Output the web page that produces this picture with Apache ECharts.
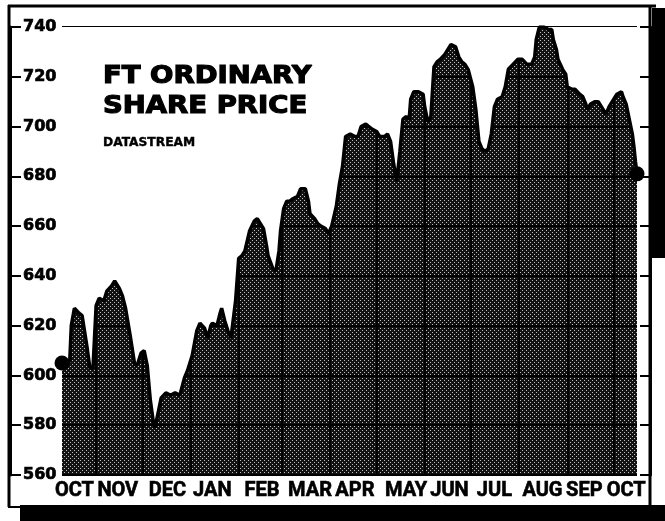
<!DOCTYPE html>
<html><head><meta charset="utf-8">
<script src="https://cdn.jsdelivr.net/npm/echarts@6/dist/echarts.min.js"></script>
<style>html,body{margin:0;padding:0;background:#fff}#c{width:665px;height:521px}</style>
</head><body><div id="c"></div>
<script>
// ---- data ----
const dates = [
'1982-10-10','1982-10-13','1982-10-15','1982-10-16','1982-10-18','1982-10-21','1982-10-23','1982-10-26','1982-10-28','1982-10-30',
'1982-11-01','1982-11-03','1982-11-06','1982-11-08','1982-11-11','1982-11-13','1982-11-16','1982-11-18','1982-11-20','1982-11-23','1982-11-25','1982-11-26','1982-11-28','1982-11-30',
'1982-12-02','1982-12-04','1982-12-06','1982-12-08','1982-12-09','1982-12-11','1982-12-13','1982-12-16','1982-12-19','1982-12-22','1982-12-25','1982-12-28','1982-12-30',
'1983-01-02','1983-01-05','1983-01-07','1983-01-10','1983-01-12','1983-01-14','1983-01-15','1983-01-18','1983-01-20','1983-01-21','1983-01-23','1983-01-25','1983-01-27','1983-01-28','1983-01-30',
'1983-02-01','1983-02-03','1983-02-05','1983-02-08','1983-02-11','1983-02-13','1983-02-15','1983-02-17','1983-02-19','1983-02-20','1983-02-23','1983-02-25','1983-02-27','1983-02-28',
'1983-03-02','1983-03-04','1983-03-06','1983-03-08','1983-03-11','1983-03-13','1983-03-16','1983-03-18','1983-03-19','1983-03-22','1983-03-24','1983-03-26','1983-03-29','1983-03-31',
'1983-04-02','1983-04-05','1983-04-07','1983-04-09','1983-04-11','1983-04-14','1983-04-17','1983-04-19','1983-04-21','1983-04-24','1983-04-26','1983-04-28',
'1983-05-01','1983-05-03','1983-05-06','1983-05-08','1983-05-10','1983-05-12','1983-05-14','1983-05-16','1983-05-18','1983-05-20','1983-05-22','1983-05-23','1983-05-25','1983-05-28','1983-05-31',
'1983-06-01','1983-06-03','1983-06-05','1983-06-07','1983-06-09','1983-06-11','1983-06-14','1983-06-16','1983-06-18','1983-06-21','1983-06-23','1983-06-25','1983-06-27','1983-06-29',
'1983-07-02','1983-07-04','1983-07-06','1983-07-08','1983-07-10','1983-07-12','1983-07-14','1983-07-16','1983-07-18','1983-07-21','1983-07-23','1983-07-25','1983-07-28','1983-07-31',
'1983-08-03','1983-08-06','1983-08-09','1983-08-11','1983-08-12','1983-08-14','1983-08-17','1983-08-20','1983-08-22','1983-08-23','1983-08-25','1983-08-26','1983-08-29','1983-08-31',
'1983-09-01','1983-09-04','1983-09-06','1983-09-09','1983-09-11','1983-09-13','1983-09-14','1983-09-16','1983-09-19','1983-09-21','1983-09-23','1983-09-25','1983-09-26','1983-09-28',
'1983-10-01','1983-10-03','1983-10-06','1983-10-07','1983-10-09','1983-10-11','1983-10-13','1983-10-14','1983-10-15','1983-10-16'
];
const values = [
605,604,606,620,627,625,624,612,603,603,
628,631,630,634,636,638,635,632,627,616,608,604,605,609,
610,604,590,581,579,585,591,593,592,593,592,599,602,
608,618,621,619,615,620,621,620,625,627,622,618,615,615,630,
647,648,650,658,662,663,661,659,652,648,643,642,650,658,
667,670,670,671,672,675,675,670,665,663,661,660,659,657,
660,668,677,684,696,697,696,696,700,701,700,699,
698,696,696,697,694,685,678,690,703,704,703,711,714,714,713,
708,702,704,724,726,727,729,731,733,732,728,726,725,723,
716,707,694,691,690,691,697,708,711,712,716,723,725,727,
727,725,725,728,735,740,740,739,739,735,731,727,723,721,
716,715,715,713,712,709,707,709,710,710,708,706,705,708,
711,713,714,712,709,703,697,692,686,681
];
const monthStarts = ['1982-11-01','1982-12-01','1983-01-01','1983-02-01','1983-03-01','1983-04-01','1983-05-01','1983-06-01','1983-07-01','1983-08-01','1983-09-01','1983-10-01'];
const labelDates = ['1982-10-18','1982-11-15','1982-12-17','1983-01-15','1983-02-16','1983-03-19','1983-04-17','1983-05-20','1983-06-17','1983-07-16','1983-08-16','1983-09-12','1983-10-09'];
const monthNames = ['JAN','FEB','MAR','APR','MAY','JUN','JUL','AUG','SEP','OCT','NOV','DEC'];
const xMin = '1982-10-10', xMax = '1983-10-16';
const yMin = 560, yMax = 740, yStep = 20;
const titleLines = ['FT ORDINARY', 'SHARE PRICE'];
const sourceText = 'DATASTREAM';

// ---- build ----
const ts = d => new Date(d + 'T00:00:00').getTime();
const pts = dates.map((d, i) => [ts(d), values[i]]);

const pc = document.createElement('canvas'); pc.width = 4; pc.height = 4;
const g = pc.getContext('2d');
g.fillStyle = '#121212'; g.fillRect(0, 0, 4, 4);
g.fillStyle = '#c0c0c0'; g.fillRect(0, 0, 1, 1); g.fillRect(2, 2, 1, 1);

const chart = echarts.init(document.getElementById('c'), null, {renderer: 'canvas'});
const titleFont = 'bold 25px "DejaVu Sans"';
const option = {
  animation: false,
  backgroundColor: '#fff',
  grid: {left: 62, right: 28, top: 27, bottom: 46},
  xAxis: {
    type: 'value', min: ts(xMin), max: ts(xMax), zlevel: 0, z: 3,
    axisLine: {show: false},
    axisTick: {show: false, customValues: monthStarts.map(ts)},
    splitLine: {show: true, lineStyle: {color: '#000', width: 2}},
    axisLabel: {
      customValues: labelDates.map(ts),
      showMinLabel: true, showMaxLabel: true, hideOverlap: false,
      formatter: v => monthNames[new Date(v).getMonth()],
      color: '#000', fontFamily: 'Roboto', fontWeight: 'bold', fontSize: 20, margin: 6,
      textBorderColor: '#000', textBorderWidth: 0.6
    }
  },
  yAxis: [{
    type: 'value', min: yMin, max: yMax, interval: yStep, position: 'left', offset: 52, zlevel: 0, z: 3,
    axisLine: {show: true, lineStyle: {color: '#000', width: 3}},
    axisTick: {show: true, inside: true, length: 11, lineStyle: {color: '#000', width: 2}},
    axisLabel: {inside: true, margin: 13, color: '#000', fontFamily: 'DejaVu Sans', fontWeight: 'bold', fontSize: 16,
      textBorderColor: '#000', textBorderWidth: 0.7},
    splitLine: {show: true, lineStyle: {color: '#000', width: 2}}
  }, {
    type: 'value', min: yMin, max: yMax, interval: yStep, position: 'right', offset: 13, zlevel: 0, z: 3,
    axisLine: {show: true, lineStyle: {color: '#000', width: 3}},
    axisTick: {show: true, inside: true, length: 10, lineStyle: {color: '#000', width: 2}},
    axisLabel: {show: false},
    splitLine: {show: false}
  }],
  series: [
    {name: 'fill', type: 'line', data: pts, symbol: 'none', lineStyle: {width: 0},
     areaStyle: {color: {image: pc, repeat: 'repeat'}, opacity: 1, origin: 'start'}, zlevel: 0, z: 1},
    {name: 'mask', type: 'line', data: pts, symbol: 'none', lineStyle: {width: 0},
     areaStyle: {color: '#fff', opacity: 1, origin: 'end'}, zlevel: 1, z: 1},
    {name: 'outline', type: 'line', data: pts, symbol: 'none', lineStyle: {color: '#000', width: 3.5}, zlevel: 2, z: 1},
    {name: 'ends', type: 'scatter', data: [pts[0], pts[pts.length - 1]], symbolSize: 15,
     itemStyle: {color: '#000', opacity: 1}, zlevel: 2, z: 2, clip: false}
  ],
  graphic: [
    {type: 'rect', zlevel: 3, shape: {x: 20, y: 505, width: 645, height: 16}, style: {fill: '#000'}},
    {type: 'rect', zlevel: 3, shape: {x: 652, y: 8, width: 13, height: 250}, style: {fill: '#000'}},
    {type: 'line', zlevel: 3, shape: {x1: 8, y1: 6, x2: 656, y2: 6}, style: {stroke: '#000', lineWidth: 3}},
    {type: 'line', zlevel: 3, shape: {x1: 9, y1: 5, x2: 9, y2: 507}, style: {stroke: '#000', lineWidth: 3}},
    {type: 'line', zlevel: 3, shape: {x1: 8, y1: 507, x2: 22, y2: 507}, style: {stroke: '#000', lineWidth: 2}},
    {type: 'line', zlevel: 3, shape: {x1: 650, y1: 5, x2: 650, y2: 506}, style: {stroke: '#000', lineWidth: 3}},
    {type: 'text', zlevel: 3, x: 103, y: 76, scaleX: 1.1,
     style: {text: titleLines[0], font: titleFont, fill: '#000', stroke: '#000', lineWidth: 1.2, verticalAlign: 'middle'}},
    {type: 'text', zlevel: 3, x: 103, y: 106, scaleX: 1.1,
     style: {text: titleLines[1], font: titleFont, fill: '#000', stroke: '#000', lineWidth: 1.2, verticalAlign: 'middle'}},
    {type: 'text', zlevel: 3, x: 103, y: 142.5, scaleX: 1.02,
     style: {text: sourceText, font: 'bold 12px "DejaVu Sans"', fill: '#000', stroke: '#000', lineWidth: 0.4, verticalAlign: 'middle'}}
  ]
};
chart.setOption(option);
</script></body></html>
